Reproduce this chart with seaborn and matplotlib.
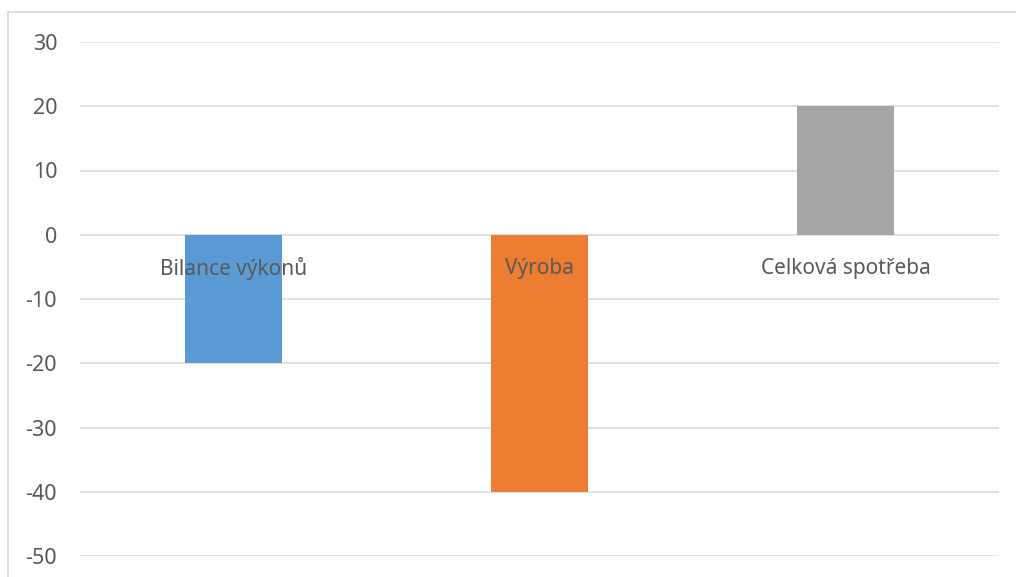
import matplotlib
matplotlib.use("Agg")
import matplotlib.pyplot as plt
import matplotlib.lines as mlines
import seaborn as sns
import pandas as pd

categories = ["Bilance výkonů", "Výroba", "Celková spotřeba"]
values = [-20, -40, 20]
colors = ["#5B9BD5", "#ED7D31", "#A5A5A5"]
yticks = [-50, -40, -30, -20, -10, 0, 10, 20, 30]

sns.set_theme(style="white")
plt.rcParams["font.family"] = ["Noto Sans", "DejaVu Sans"]

W, H = 1016, 577
fig = plt.figure(figsize=(W / 100, H / 100), dpi=100)
ax = fig.add_axes([80 / W, (H - 556) / H, (999 - 80) / W, (556 - 42) / H])

df = pd.DataFrame({"kategorie": categories, "hodnota": values})
sns.barplot(data=df, x="kategorie", y="hodnota", hue="kategorie",
            palette=colors, width=0.317, dodge=False, legend=False,
            saturation=1, linewidth=0, ax=ax, zorder=3)

ax.set_ylim(-50, 30)
ax.set_xlim(-0.5, len(categories) - 0.5)
ax.set_yticks(yticks)
ax.set_yticklabels([str(t) for t in yticks])
ax.yaxis.grid(True, color="#d9d9d9", linewidth=1.1, zorder=0)
ax.set_axisbelow(True)
for s in ax.spines.values():
    s.set_visible(False)
ax.tick_params(axis="y", length=0, pad=16.5, labelsize=15.5, labelcolor="#595959")
ax.set_xticks([])
ax.set_xlabel("")
ax.set_ylabel("")

# category names sit just under the zero line
for i, name in enumerate(categories):
    ax.annotate(name, xy=(i, 0), xytext=(0, -34), textcoords="offset pixels",
                ha="center", va="center", fontsize=15, color="#595959", zorder=4)

# chart area frame
frame_color = "#d9d9d9"
fig.add_artist(mlines.Line2D([8 / W, 1.0], [1 - 12 / H, 1 - 12 / H],
                             color=frame_color, linewidth=1.2, transform=fig.transFigure))
fig.add_artist(mlines.Line2D([8 / W, 8 / W], [0.0, 1 - 12 / H],
                             color=frame_color, linewidth=1.2, transform=fig.transFigure))

fig.savefig("out.png", dpi=100, facecolor="white")
